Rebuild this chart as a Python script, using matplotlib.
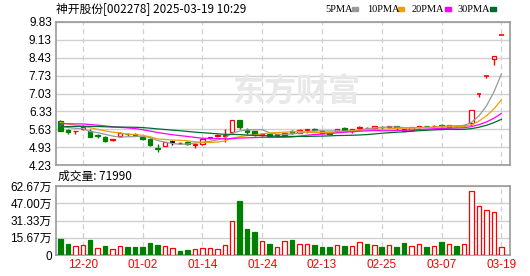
import matplotlib
matplotlib.use("Agg")
import matplotlib.pyplot as plt
import numpy as np
import pandas as pd

# trading days shown (MM-DD)
dates = ["12-17", "12-18", "12-19", "12-20", "12-23", "12-24", "12-25", "12-26", "12-27", "12-30",
         "12-31", "01-02", "01-03", "01-06", "01-07", "01-08", "01-09", "01-10", "01-13", "01-14",
         "01-15", "01-16", "01-17", "01-20", "01-21", "01-22", "01-23", "01-24", "01-27", "02-05",
         "02-06", "02-07", "02-10", "02-11", "02-12", "02-13", "02-14", "02-17", "02-18", "02-19",
         "02-20", "02-21", "02-24", "02-25", "02-26", "02-27", "02-28", "03-03", "03-04", "03-05",
         "03-06", "03-07", "03-10", "03-11", "03-12", "03-13", "03-14", "03-17", "03-18", "03-19"]

open_ = [5.95, 5.60, 5.55, 5.65, 5.57, 5.40, 5.34, 5.19, 5.37, 5.45,
         5.43, 5.34, 5.25, 4.89, 4.99, 5.12, 5.08, 5.14, 5.03, 5.04,
         5.29, 5.36, 5.38, 5.51, 5.99, 5.60, 5.56, 5.40, 5.46, 5.40,
         5.40, 5.55, 5.50, 5.60, 5.63, 5.57, 5.50, 5.55, 5.69, 5.55,
         5.67, 5.66, 5.69, 5.72, 5.70, 5.74, 5.63, 5.62, 5.70, 5.76,
         5.74, 5.80, 5.71, 5.76, 5.78, 5.86, 7.02, 7.72, 8.40, 9.34]
high = [5.98, 5.63, 5.58, 5.80, 5.63, 5.45, 5.38, 5.24, 5.51, 5.50,
        5.48, 5.40, 5.27, 5.04, 5.15, 5.22, 5.13, 5.16, 5.08, 5.27,
        5.33, 5.44, 5.63, 6.01, 6.00, 5.67, 5.58, 5.48, 5.48, 5.46,
        5.51, 5.60, 5.64, 5.64, 5.66, 5.59, 5.52, 5.64, 5.70, 5.64,
        5.75, 5.72, 5.77, 5.76, 5.76, 5.76, 5.66, 5.73, 5.77, 5.77,
        5.78, 5.82, 5.80, 5.79, 5.81, 6.38, 7.02, 7.72, 8.49, 9.34]
low = [5.55, 5.44, 5.44, 5.60, 5.32, 5.29, 5.14, 5.17, 5.32, 5.38,
       5.35, 5.22, 4.98, 4.72, 4.97, 5.02, 5.06, 5.02, 4.90, 5.02,
       5.26, 5.33, 5.15, 5.48, 5.65, 5.44, 5.37, 5.37, 5.35, 5.38,
       5.38, 5.45, 5.49, 5.50, 5.57, 5.48, 5.44, 5.53, 5.55, 5.48,
       5.62, 5.64, 5.66, 5.62, 5.69, 5.62, 5.55, 5.60, 5.68, 5.70,
       5.72, 5.71, 5.70, 5.73, 5.76, 5.75, 6.88, 7.62, 8.15, 9.34]
close = [5.57, 5.52, 5.57, 5.70, 5.34, 5.37, 5.18, 5.23, 5.47, 5.43,
         5.40, 5.24, 5.00, 4.87, 5.12, 5.12, 5.10, 5.04, 5.07, 5.25,
         5.32, 5.39, 5.42, 5.99, 5.70, 5.53, 5.39, 5.46, 5.37, 5.44,
         5.49, 5.48, 5.62, 5.63, 5.60, 5.50, 5.46, 5.63, 5.58, 5.63,
         5.72, 5.69, 5.76, 5.70, 5.74, 5.70, 5.57, 5.70, 5.76, 5.74,
         5.77, 5.75, 5.79, 5.77, 5.80, 6.38, 7.02, 7.72, 8.49, 9.34]

# closes before the visible window (only feed the moving averages)
hist_close = [5.40, 5.42, 5.45, 5.48, 5.50, 5.47, 5.52, 5.55, 5.53, 5.55,
              5.60, 5.68, 5.75, 5.80, 5.85, 5.82, 5.88, 5.90, 5.86, 5.96,
              6.05, 6.10, 6.02, 5.98, 6.00, 5.78, 5.72, 5.78, 5.90]

# volume, unit 万
volume = [14.5, 10.0, 7.9, 8.8, 13.6, 6.7, 7.9, 5.1, 7.9, 7.3,
          7.3, 7.3, 10.6, 8.8, 7.9, 6.1, 3.6, 4.5, 5.1, 6.1,
          6.7, 5.1, 8.8, 30.6, 49.0, 23.6, 20.9, 12.7, 10.0, 7.0,
          12.4, 13.6, 10.0, 10.0, 9.1, 7.3, 7.3, 9.1, 8.2, 7.9,
          11.5, 10.0, 8.8, 7.3, 8.8, 7.3, 10.9, 7.9, 9.7, 7.3,
          8.2, 11.8, 9.7, 8.2, 9.7, 57.8, 44.2, 40.6, 38.8, 7.199]

ma_periods = [5, 10, 20, 30]
ma_colors = ["#999999", "#f0a000", "#ff00ff", "#006b2e"]
price_ticks = [4.23, 4.93, 5.63, 6.33, 7.03, 7.73, 8.43, 9.13, 9.83]
vol_ticks = [0, 15.67, 31.33, 47.00, 62.67]

RED = "#ff0000"
GREEN = "#008000"
GRID = "#d0d0d0"
FRAME = "#999999"
CJK = ["Noto Sans CJK SC", "DejaVu Sans"]
NUM = ["Liberation Sans", "Noto Sans CJK SC"]

n = len(close)
x = np.arange(n)
prev_close = [hist_close[-1]] + close[:-1]

fig = plt.figure(figsize=(5.3, 2.76), dpi=100)
fig.patch.set_facecolor("white")
ax = fig.add_axes([56 / 530, 1 - 165 / 276, 454 / 530, 143 / 276])
axv = fig.add_axes([56 / 530, 1 - 255 / 276, 454 / 530, 69 / 276])

tick_idx = list(range(3, n, 8))

for a in (ax, axv):
    a.set_xlim(-0.58, n + 0.16)
    a.set_xticks(tick_idx)
    a.tick_params(length=0, pad=3)
    for sp in a.spines.values():
        sp.set_color(FRAME)
        sp.set_linewidth(1.2)
    a.yaxis.grid(True, color=GRID, lw=1.0)
    a.set_axisbelow(True)
    for t in tick_idx:
        a.axvline(t, color=GRID, lw=0.9, ls=(0, (4, 3)), zorder=0)

# candles
w = 0.6
for i in range(n):
    o, h, l, c = open_[i], high[i], low[i], close[i]
    if c > o or (c == o and c > prev_close[i]):
        col, fill = RED, "white"
    elif c < o or (c == o and c < prev_close[i]):
        col, fill = GREEN, GREEN
    else:
        col, fill = "black", "black"
    ax.vlines(i, l, h, color=col, lw=1.0, zorder=2)
    if abs(c - o) < 1e-9:
        ax.hlines(c, i - w / 2, i + w / 2, color=col, lw=1.2, zorder=3)
    else:
        ax.bar(i, abs(c - o), bottom=min(o, c), width=w, facecolor=fill,
               edgecolor=col, linewidth=0.9, zorder=3)

# moving averages
full = pd.Series(hist_close + close)
for p, col in zip(ma_periods, ma_colors):
    ma = full.rolling(p).mean().iloc[len(hist_close):].to_numpy()
    ax.plot(x, ma, color=col, lw=0.9, zorder=4)

ax.set_ylim(4.23, 9.83)
ax.set_yticks(price_ticks)
ax.set_yticklabels([f"{v:.2f}" for v in price_ticks], family=NUM, fontsize=8.5)
ax.set_xticklabels([])

# watermark
ax.text(0.53, 0.51, "东方财富", transform=ax.transAxes, ha="center", va="center",
        fontsize=23, fontweight="bold", color="#e8e8e8", family=CJK, zorder=1)

# volume bars
for i in range(n):
    down = close[i] < prev_close[i]
    if down:
        axv.bar(i, volume[i], width=w, facecolor=GREEN, edgecolor=GREEN, linewidth=0.9, zorder=3)
    else:
        axv.bar(i, volume[i], width=w, facecolor="white", edgecolor=RED, linewidth=0.9, zorder=3)

axv.set_ylim(0, 62.67)
axv.set_yticks(vol_ticks)
axv.set_yticklabels(["0"] + [f"{v:.2f}万" for v in vol_ticks[1:]], family=NUM, fontsize=8.5)
axv.set_xticklabels([dates[i] for i in tick_idx], family=NUM, fontsize=8.5, color=RED)

# header texts
fig.text(56 / 530, 1 - 9 / 276, "神开股份[002278] 2025-03-19 10:29", family=CJK,
         fontsize=8.5, va="center", ha="left")
fig.text(58 / 530, 1 - 176 / 276, f"成交量: {int(round(volume[-1] * 10000))}", family=CJK,
         fontsize=8.5, va="center", ha="left")

leg_x = [325, 367, 412, 458]
sq_x = [352, 398, 445, 490]
for lx, qx, p, col in zip(leg_x, sq_x, ma_periods, ma_colors):
    fig.text(lx / 530, 1 - 9 / 276, f"{p}PMA", family="Liberation Serif",
             fontsize=7.5, va="center", ha="left")
    fig.patches.append(plt.Rectangle((qx / 530, 1 - 11 / 276), 6 / 530, 4 / 276,
                                     transform=fig.transFigure, color=col))

fig.savefig("out.png", dpi=100)
